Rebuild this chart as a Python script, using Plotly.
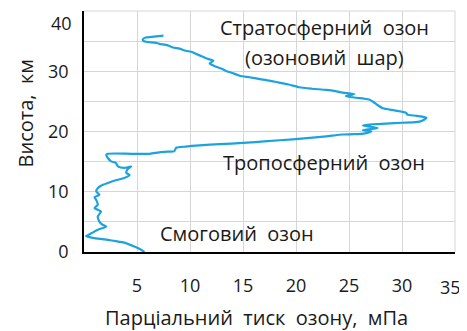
import plotly.graph_objects as go

# Профіль парціального тиску озону (мПа) за висотою (км)
pressure_mpa = [7.5, 6.6, 5.8, 5.55, 5.6, 6.0, 6.7, 7.1, 7.9, 8.4, 9.0, 9.6, 10.2, 10.6, 11.1,
                11.5, 12.2, 11.85, 12.1, 12.6, 13.0, 13.4, 14.0, 14.7, 15.6, 16.6, 17.5, 18.4,
                19.3, 20.3, 21.5, 22.85, 23.7, 24.4, 25.5, 24.7, 25.7, 26.4, 26.9, 27.3, 27.6,
                28.2, 29.3, 30.4, 30.5, 31.4, 32.3, 31.9, 31.3, 30.0, 28.5, 27.2, 26.3, 27.0,
                27.7, 26.8, 26.3, 27.1, 26.5, 25.5, 24.4, 22.85, 21.3, 19.7, 17.3, 15.0, 12.8,
                10.9, 9.6, 8.7, 8.5, 7.9, 7.1, 6.2, 4.5, 2.25, 2.1, 2.25, 2.55, 3.0, 3.2, 3.8,
                4.45, 4.1, 4.0, 4.3, 3.8, 3.0, 2.25, 1.6, 1.3, 1.15, 1.45, 1.0, 1.15, 1.3, 1.0,
                1.6, 1.3, 1.45, 1.7, 2.1, 1.3, 0.7, 0.2, 1.0, 2.25, 3.0, 3.8, 4.75, 5.3, 5.7]
altitude_km = [35.9, 35.75, 35.6, 35.3, 35.05, 34.85, 34.75, 34.55, 34.3, 33.95, 33.75, 33.4,
               33.2, 32.85, 32.5, 32.15, 31.75, 31.3, 31.05, 30.65, 30.4, 30.05, 29.7, 29.25,
               29.0, 28.7, 28.45, 28.1, 27.8, 27.35, 27.1, 26.9, 26.7, 26.45, 26.2, 25.85, 25.6,
               25.45, 25.3, 24.9, 24.5, 23.85, 23.5, 23.1, 22.8, 22.6, 22.3, 21.8, 21.55, 21.45,
               21.3, 21.2, 21.0, 20.8, 20.6, 20.35, 20.2, 20.05, 19.7, 19.55, 19.5, 19.2, 18.95,
               18.7, 18.4, 18.1, 17.9, 17.7, 17.5, 17.3, 16.7, 16.65, 16.55, 16.3, 16.3, 16.3,
               16.1, 15.6, 15.05, 14.8, 14.2, 13.95, 14.2, 13.7, 13.1, 12.8, 12.3, 11.9, 11.45,
               11.0, 10.6, 10.05, 9.5, 9.1, 8.65, 7.85, 7.3, 6.7, 5.9, 5.05, 4.6, 4.2, 3.7, 3.1,
               2.65, 2.3, 2.0, 1.8, 1.55, 0.9, 0.45, 0.0]

x_ticks = [5, 10, 15, 20, 25, 30]
x_last = 35
y_ticks = [0, 10, 20, 30]
y_top = 40

labels = ["Стратосферний  озон", "(озоновий  шар)", "Тропосферний  озон", "Смоговий  озон"]
label_x = [22.7, 22.7, 22.6, 14.4]
label_y = [37.3, 32.2, 14.8, 3.0]

font = "Open Sans"
ink = "#1a1a1a"
grid = "#d6d6d6"

fig = go.Figure()
fig.add_trace(go.Scatter(x=pressure_mpa, y=altitude_km, mode="lines",
                         line=dict(color="#1ca3df", width=2.2, shape="spline", smoothing=0.6)))

for t, x, y in zip(labels, label_x, label_y):
    fig.add_annotation(x=x, y=y, text=t, showarrow=False,
                       font=dict(family=font, size=20, color=ink))

# крайні мітки осей трохи зсунуті всередину, як в оригіналі
fig.add_annotation(x=0, y=y_top, xref="x", yref="y", text=str(y_top), showarrow=False,
                   xanchor="right", xshift=-10, yshift=-12, font=dict(family=font, size=18, color=ink))
fig.add_annotation(x=x_last, y=0, xref="x", yref="y", text=str(x_last), showarrow=False,
                   yanchor="top", xshift=-5, yshift=-21, font=dict(family=font, size=18, color=ink))

fig.add_annotation(xref="paper", yref="paper", x=-0.159, y=0.575, text="Висота,  км",
                   xanchor="center", yanchor="middle",
                   textangle=-90, showarrow=False, font=dict(family=font, size=20, color=ink))
fig.add_annotation(xref="paper", yref="paper", x=0.466, y=-0.272,
                   xanchor="center", yanchor="middle",
                   text="Парціальний  тиск  озону,  мПа", showarrow=False,
                   font=dict(family=font, size=20, color=ink))

# сторінка має відступ 8 px, тому розмір і поля зліва/зверху зменшено на 8 px
fig.update_layout(
    width=459, height=323,
    margin=dict(l=76, r=12, t=3, b=79),
    plot_bgcolor="white", paper_bgcolor="white",
    showlegend=False,
    xaxis=dict(range=[0, 35], tickvals=x_ticks, showgrid=True, gridcolor=grid, gridwidth=1,
               showline=True, linecolor="black", linewidth=1.5, zeroline=False,
               ticks="", ticklabelstandoff=17, ticklabeloverflow="allow",
               tickfont=dict(family=font, size=18, color=ink)),
    yaxis=dict(range=[0, 40], tickvals=y_ticks, showgrid=True, gridcolor=grid, gridwidth=1,
               minor=dict(dtick=5, showgrid=True, gridcolor=grid),
               showline=True, linecolor="black", linewidth=1.5, zeroline=False,
               ticks="", ticklabelstandoff=10, ticklabeloverflow="allow",
               tickfont=dict(family=font, size=18, color=ink)),
)
fig.add_shape(type="line", xref="paper", yref="paper", x0=0, x1=1, y0=1, y1=1,
              line=dict(color=grid, width=1))
fig.add_shape(type="line", xref="paper", yref="paper", x0=1, x1=1, y0=0, y1=1,
              line=dict(color=grid, width=1))

fig.write_html("out.html")
